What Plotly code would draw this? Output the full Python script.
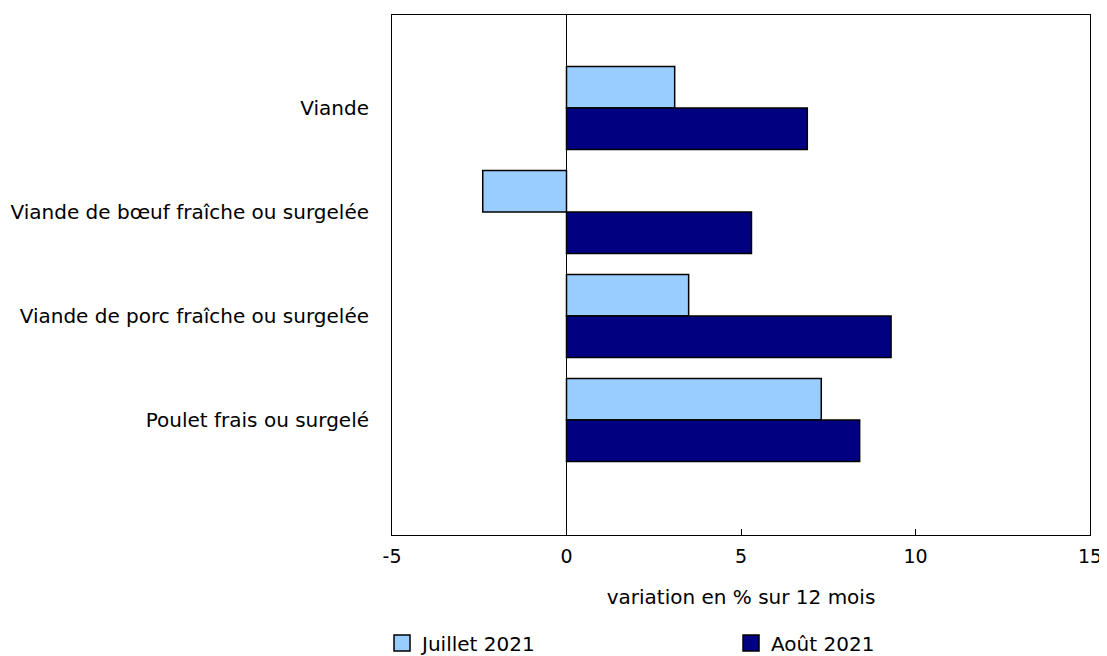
import plotly.graph_objects as go

categories = ["Viande", "Viande de bœuf fraîche ou surgelée",
              "Viande de porc fraîche ou surgelée", "Poulet frais ou surgelé"]
juillet = [3.1, -2.4, 3.5, 7.3]
aout = [6.9, 5.3, 9.3, 8.4]
series_names = ["Juillet 2021", "Août 2021"]
series_colors = ["#99CCFF", "#000080"]
x_ticks = [-5, 0, 5, 10, 15]

FONT = "DejaVu Sans, Verdana, sans-serif"

fig = go.Figure()
for vals, name, col in zip([juillet, aout], series_names, series_colors):
    fig.add_trace(go.Bar(y=categories, x=vals, name=name, orientation="h",
                         showlegend=False,
                         marker=dict(color=col, line=dict(color="#000000", width=1.5))))
# legend entries with larger square swatches, one legend box per series
for name, col, lg in zip(series_names, series_colors, ["legend", "legend2"]):
    fig.add_trace(go.Scatter(x=[None], y=[None], mode="markers", name=name, legend=lg,
                             marker=dict(symbol="square", size=19, color=col,
                                         line=dict(color="#000000", width=1.5))))

legend_common = dict(orientation="h", xref="paper", xanchor="left",
                     yref="container", y=0.020, yanchor="middle",
                     font=dict(size=20), bgcolor="rgba(0,0,0,0)")

fig.update_layout(
    width=1099, height=648,
    margin=dict(l=384, r=17, t=7, b=121, autoexpand=False),
    paper_bgcolor="white", plot_bgcolor="white",
    font=dict(family=FONT, size=20, color="#000000"),
    barmode="group", bargap=0.2, bargroupgap=0,
    showlegend=True,
    legend=dict(x=-0.0143, **legend_common),
    legend2=dict(x=0.4857, **legend_common),
    xaxis=dict(range=[-5, 15], tickvals=x_ticks, ticktext=[str(v) for v in x_ticks],
               showgrid=False, zeroline=True, zerolinecolor="#000000", zerolinewidth=1,
               showline=True, linecolor="#000000", linewidth=1, mirror=True,
               ticks="inside", ticklen=6, tickcolor="#000000", ticklabelstandoff=4,
               ticklabeloverflow="allow", tickfont=dict(size=19),
               title=dict(text="variation en % sur 12 mois", standoff=24,
                          font=dict(size=20))),
    yaxis=dict(type="category", categoryorder="array", categoryarray=categories,
               range=[4.106, -0.894], showgrid=False, zeroline=False,
               showline=True, linecolor="#000000", linewidth=1, mirror=True,
               ticks="", ticklabelstandoff=18, tickfont=dict(size=20)),
)

fig.write_html("out.html")
